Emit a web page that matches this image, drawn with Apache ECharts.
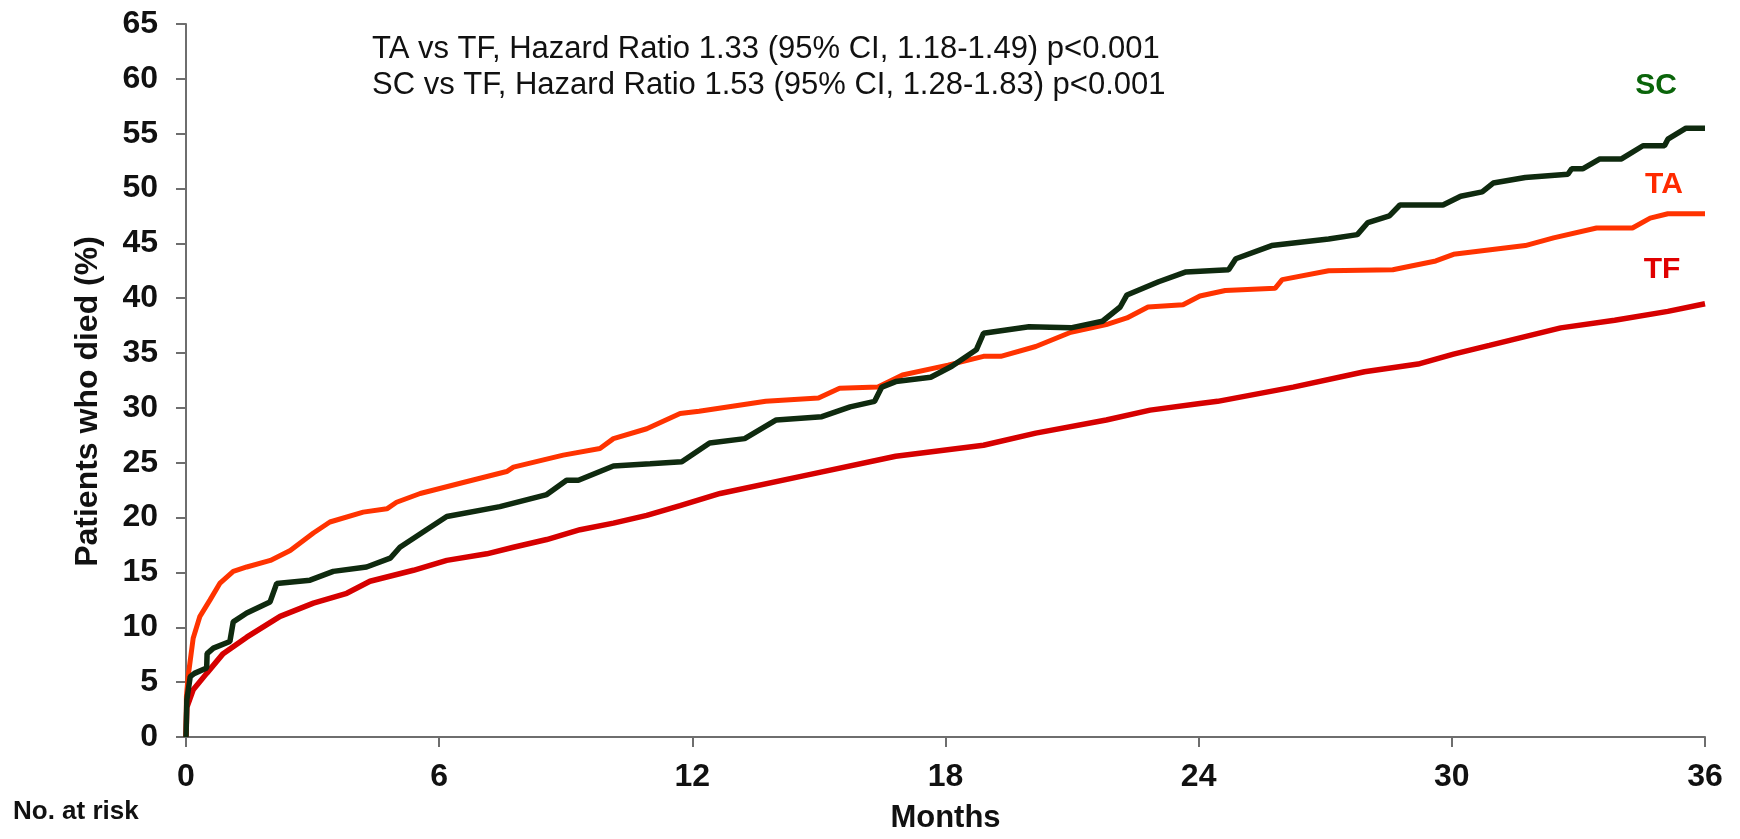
<!DOCTYPE html>
<html>
<head>
<meta charset="utf-8">
<script src="https://cdn.jsdelivr.net/npm/echarts@6/dist/echarts.min.js"></script>
<style>
html,body{margin:0;padding:0;background:#fff;}
#chart{width:1740px;height:839px;}
</style>
</head>
<body>
<div id="chart"></div>
<script>
// X axis ticks (months) and Y axis ticks (%)
const xTicks = [0, 6, 12, 18, 24, 30, 36];
const yMax = 65;

// TF curve
const tfMonths = [0, 0.02, 0.17, 0.49, 0.88, 1.44, 2.23, 3.02, 3.81, 4.36, 5.39, 6.18, 7.13, 7.76, 8.55, 9.34, 10.13, 10.92, 11.71, 12.66, 14.74, 16.82, 18.9, 20.14, 21.81, 22.85, 24.03, 24.45, 26.24, 27.93, 29.2, 30.04, 30.89, 32.58, 33.86, 35.12, 36];
const tfValues = [0, 2.7, 4.3, 5.8, 7.6, 9.1, 11.0, 12.2, 13.1, 14.2, 15.2, 16.1, 16.7, 17.3, 18.0, 18.9, 19.5, 20.2, 21.1, 22.2, 23.9, 25.6, 26.6, 27.7, 28.9, 29.8, 30.4, 30.6, 31.9, 33.3, 34.0, 34.9, 35.7, 37.3, 38.0, 38.8, 39.5];

// TA curve
const taMonths = [0, 0.01, 0.05, 0.17, 0.33, 0.57, 0.8, 1.12, 1.44, 2.0, 2.47, 3.02, 3.41, 4.2, 4.76, 4.99, 5.55, 6.57, 7.6, 7.76, 8.94, 9.81, 10.13, 10.92, 11.71, 12.16, 13.74, 14.99, 15.49, 16.4, 16.98, 18.06, 18.9, 19.31, 20.14, 20.97, 21.81, 22.3, 22.8, 23.63, 24.03, 24.63, 25.81, 25.98, 27.08, 28.6, 29.62, 30.04, 31.74, 32.41, 33.43, 34.28, 34.7, 35.12, 36];
const taValues = [0, 3.7, 5.5, 9.0, 11.0, 12.5, 14.0, 15.1, 15.5, 16.1, 17.0, 18.6, 19.6, 20.5, 20.8, 21.4, 22.2, 23.2, 24.2, 24.6, 25.7, 26.3, 27.2, 28.1, 29.5, 29.7, 30.6, 30.9, 31.8, 31.9, 33.0, 33.9, 34.7, 34.7, 35.6, 36.9, 37.6, 38.2, 39.2, 39.4, 40.2, 40.7, 40.9, 41.7, 42.5, 42.6, 43.4, 44.0, 44.8, 45.5, 46.4, 46.4, 47.3, 47.7, 47.7];

// SC curve
const scMonths = [0, 0.02, 0.1, 0.2, 0.49, 0.5, 0.65, 1.04, 1.12, 1.44, 1.99, 2.15, 2.94, 3.49, 4.28, 4.84, 5.07, 5.7, 6.18, 7.44, 8.55, 9.02, 9.3, 10.13, 11.0, 11.75, 12.41, 13.24, 13.99, 15.07, 15.74, 16.32, 16.49, 16.82, 17.65, 18.15, 18.73, 18.9, 19.98, 20.97, 21.72, 22.14, 22.3, 23.05, 23.7, 24.71, 24.88, 25.73, 27.08, 27.76, 28.01, 28.52, 28.77, 29.79, 30.21, 30.72, 30.98, 31.74, 32.75, 32.84, 33.1, 33.51, 34.02, 34.53, 35.04, 35.12, 35.55, 36];
const scValues = [0, 3.4, 5.5, 5.8, 6.3, 7.6, 8.1, 8.7, 10.5, 11.3, 12.3, 14.0, 14.3, 15.1, 15.5, 16.3, 17.3, 18.9, 20.1, 21.0, 22.1, 23.4, 23.4, 24.7, 24.9, 25.1, 26.8, 27.2, 28.9, 29.2, 30.1, 30.6, 31.9, 32.4, 32.8, 33.8, 35.3, 36.8, 37.4, 37.3, 37.9, 39.2, 40.3, 41.5, 42.4, 42.6, 43.6, 44.8, 45.4, 45.8, 46.9, 47.5, 48.5, 48.5, 49.3, 49.7, 50.5, 51.0, 51.3, 51.8, 51.8, 52.7, 52.7, 53.9, 53.9, 54.5, 55.5, 55.5];

const seriesNames = ['TF', 'TA', 'SC'];
const headerLines = [
  'TA vs TF, Hazard Ratio 1.33 (95% CI, 1.18-1.49) p<0.001',
  'SC vs TF, Hazard Ratio 1.53 (95% CI, 1.28-1.83) p<0.001'
];

const zip = (a, b) => a.map((m, i) => [m, b[i]]);
const FONT = "'Liberation Sans', Arial, sans-serif";

const chart = echarts.init(document.getElementById('chart'), null, {renderer: 'canvas'});
chart.setOption({
  backgroundColor: '#ffffff',
  animation: false,
  grid: {left: 186, right: 35, top: 24, bottom: 102, containLabel: false},
  xAxis: {
    type: 'value', min: xTicks[0], max: xTicks[xTicks.length - 1], interval: 6,
    name: 'Months', nameLocation: 'middle', nameGap: 66,
    nameTextStyle: {fontFamily: FONT, fontWeight: 'bold', fontSize: 31, color: '#111'},
    axisLine: {show: true, lineStyle: {color: '#6e6e6e', width: 2}},
    axisTick: {show: true, inside: false, length: 10, lineStyle: {color: '#6e6e6e', width: 2}},
    axisLabel: {fontFamily: FONT, fontWeight: 'bold', fontSize: 32, color: '#111', margin: 24},
    splitLine: {show: false}
  },
  yAxis: {
    type: 'value', min: 0, max: yMax, interval: 5,
    name: 'Patients who died (%)', nameLocation: 'middle', nameGap: 82, nameRotate: 90,
    nameTextStyle: {fontFamily: FONT, fontWeight: 'bold', fontSize: 32, color: '#111', padding: [0, 42, 0, 0]},
    axisLine: {show: true, lineStyle: {color: '#6e6e6e', width: 2}},
    axisTick: {show: true, inside: false, length: 10, lineStyle: {color: '#6e6e6e', width: 2}},
    axisLabel: {fontFamily: FONT, fontWeight: 'bold', fontSize: 32, color: '#111', margin: 28},
    splitLine: {show: false}
  },
  series: [
    {name: seriesNames[0], type: 'line', data: zip(tfMonths, tfValues), showSymbol: false,
     lineStyle: {color: '#d60000', width: 5.5}, z: 2},
    {name: seriesNames[1], type: 'line', data: zip(taMonths, taValues), showSymbol: false,
     lineStyle: {color: '#ff3300', width: 5}, z: 3},
    {name: seriesNames[2], type: 'line', data: zip(scMonths, scValues), showSymbol: false,
     lineStyle: {color: '#0f2a0f', width: 5.5}, z: 4}
  ],
  graphic: [
    {type: 'text', x: 372, y: 49, style: {text: headerLines[0], font: '31px ' + FONT, fill: '#111', verticalAlign: 'middle', align: 'left'}},
    {type: 'text', x: 372, y: 85, style: {text: headerLines[1], font: '31px ' + FONT, fill: '#111', verticalAlign: 'middle', align: 'left'}},
    {type: 'text', x: 1656, y: 86, style: {text: seriesNames[2], font: 'bold 30px ' + FONT, fill: '#0a640a', verticalAlign: 'middle', align: 'center'}},
    {type: 'text', x: 1664, y: 185, style: {text: seriesNames[1], font: 'bold 30px ' + FONT, fill: '#ff2a00', verticalAlign: 'middle', align: 'center'}},
    {type: 'text', x: 1662, y: 270, style: {text: seriesNames[0], font: 'bold 30px ' + FONT, fill: '#e00000', verticalAlign: 'middle', align: 'center'}},
    {type: 'text', x: 13, y: 812, style: {text: 'No. at risk', font: 'bold 26px ' + FONT, fill: '#111', verticalAlign: 'middle', align: 'left'}}
  ]
});
</script>
</body>
</html>
